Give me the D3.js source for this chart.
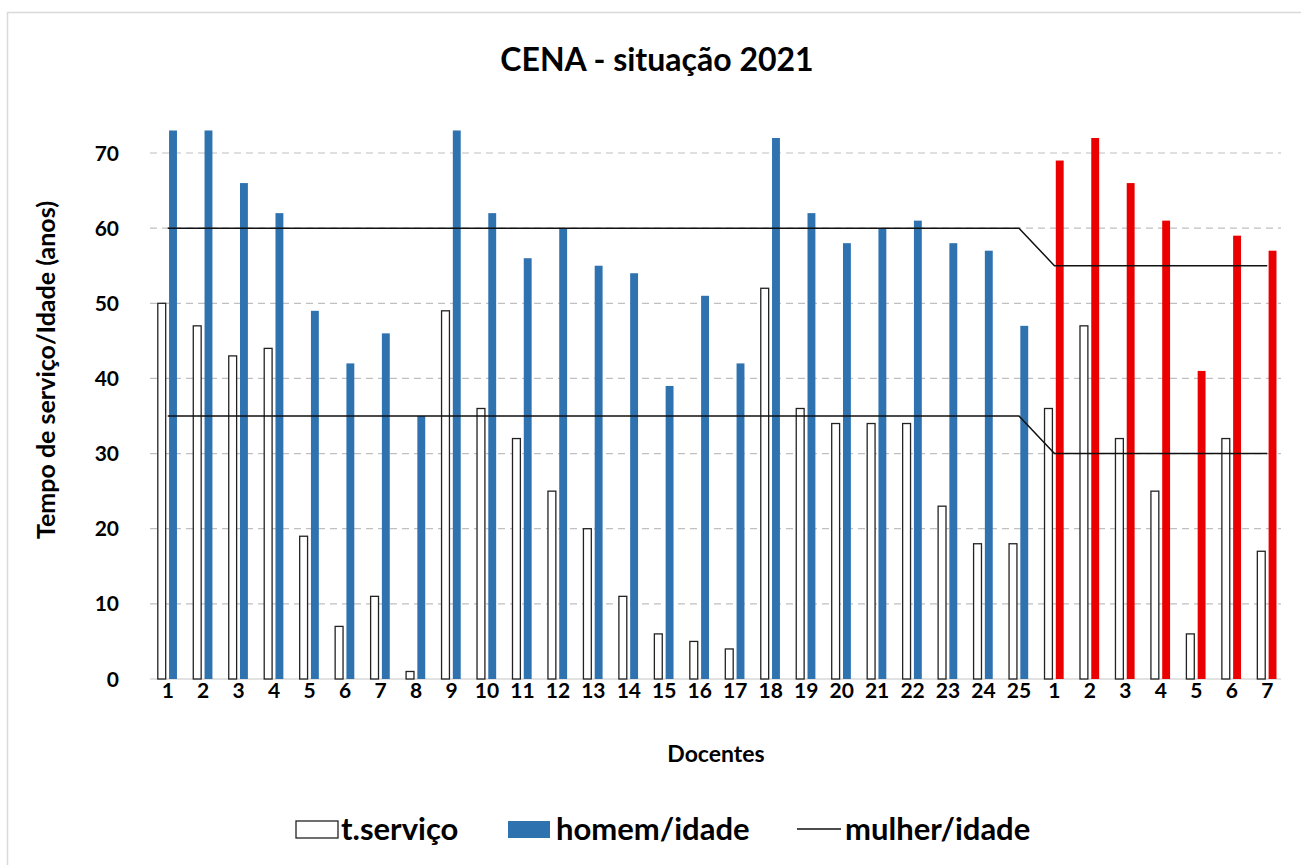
<!DOCTYPE html>
<html>
<head>
<meta charset="utf-8">
<script src="https://cdn.jsdelivr.net/npm/d3@7"></script>
<style>
  body { margin: 0; background: #fff; }
  text { font-family: Lato, "Open Sans", sans-serif; font-weight: bold; fill: #000; }
</style>
</head>
<body>
<svg id="chart" width="1301" height="865"></svg>
<script>
// docentes: 25 homens, depois 7 mulheres
var docentes = ["1","2","3","4","5","6","7","8","9","10","11","12","13","14","15","16","17","18","19","20","21","22","23","24","25",
                "1","2","3","4","5","6","7"];
var sexo = ["H","H","H","H","H","H","H","H","H","H","H","H","H","H","H","H","H","H","H","H","H","H","H","H","H",
            "M","M","M","M","M","M","M"];
var tServico = [50,47,43,44,19,7,11,1,49,36,32,25,20,11,6,5,4,52,36,34,34,34,23,18,18,
                36,47,32,25,6,32,17];
var idade = [73,73,66,62,49,42,46,35,73,62,56,60,55,54,39,51,42,72,62,58,60,61,58,57,47,
             69,72,66,61,41,59,57];
// limites de aposentadoria (idade / tempo de serviço)
var limiteIdade = [60,60,60,60,60,60,60,60,60,60,60,60,60,60,60,60,60,60,60,60,60,60,60,60,60,
                   55,55,55,55,55,55,55];
var limiteServico = [35,35,35,35,35,35,35,35,35,35,35,35,35,35,35,35,35,35,35,35,35,35,35,35,35,
                     30,30,30,30,30,30,30];
var yTicks = [0,10,20,30,40,50,60,70];

var svg = d3.select("#chart");
var left = 150, right = 1285, bottom = 679;

// moldura do gráfico
svg.append("rect")
  .attr("x", 7.5).attr("y", 12.5)
  .attr("width", 1320).attr("height", 900)
  .attr("fill", "none")
  .attr("stroke", "#d9d9d9")
  .attr("stroke-width", 1.5);

var idx = d3.range(docentes.length);
var x = d3.scaleBand().domain(idx).range([left, right]);
var inner = d3.scaleBand().domain(["serv","idade"])
  .range([x.bandwidth()*0.22, x.bandwidth()*0.76]).paddingInner(0.3);
var y = d3.scaleLinear().domain([0, 77]).range([bottom, bottom - 77*7.514]);

// grade
svg.append("g").selectAll("line")
  .data(yTicks.filter(function(d){ return d > 0; }))
  .enter().append("line")
  .attr("x1", left).attr("x2", right - 4)
  .attr("y1", function(d){ return y(d); })
  .attr("y2", function(d){ return y(d); })
  .attr("stroke", "#c0c0c0")
  .attr("stroke-width", 1.2)
  .attr("stroke-dasharray", "7,5");

// eixo x (linha base)
svg.append("line")
  .attr("x1", left).attr("x2", right - 4)
  .attr("y1", y(0)).attr("y2", y(0))
  .attr("stroke", "#d9d9d9").attr("stroke-width", 1.5);

// rótulos eixo y
svg.append("g").selectAll("text")
  .data(yTicks).enter().append("text")
  .attr("x", 119)
  .attr("y", function(d){ return y(d); })
  .attr("dy", "0.36em")
  .attr("text-anchor", "end")
  .style("font-size", "21px")
  .text(function(d){ return d; });

// rótulos eixo x
svg.append("g").selectAll("text")
  .data(idx).enter().append("text")
  .attr("x", function(i){ return x(i) + x.bandwidth()/2; })
  .attr("y", 698)
  .attr("text-anchor", "middle")
  .style("font-size", "21px")
  .text(function(i){ return docentes[i]; });

// barras t.serviço
svg.append("g").selectAll("rect")
  .data(idx).enter().append("rect")
  .attr("x", function(i){ return x(i) + inner("serv"); })
  .attr("y", function(i){ return y(tServico[i]); })
  .attr("width", inner.bandwidth())
  .attr("height", function(i){ return y(0) - y(tServico[i]); })
  .attr("fill", "#fff")
  .attr("stroke", "#222")
  .attr("stroke-width", 1.3);

// barras idade
svg.append("g").selectAll("rect")
  .data(idx).enter().append("rect")
  .attr("x", function(i){ return x(i) + inner("idade"); })
  .attr("y", function(i){ return y(idade[i]); })
  .attr("width", inner.bandwidth())
  .attr("height", function(i){ return y(0) - y(idade[i]); })
  .attr("fill", function(i){ return sexo[i] == "H" ? "#2e72b0" : "#ea0000"; });

// linhas de limite
var line = d3.line()
  .x(function(d, i){ return x(i) + x.bandwidth()/2; })
  .y(function(d){ return y(d); });
[limiteIdade, limiteServico].forEach(function(serie){
  svg.append("path")
    .datum(serie)
    .attr("d", line)
    .attr("fill", "none")
    .attr("stroke", "#111")
    .attr("stroke-width", 1.5);
});

// títulos
svg.append("text")
  .attr("x", 657).attr("y", 71)
  .attr("text-anchor", "middle")
  .style("font-size", "32px")
  .text("CENA - situação 2021");

svg.append("text")
  .attr("transform", "translate(55,370) rotate(-90)")
  .attr("text-anchor", "middle")
  .style("font-size", "25px")
  .text("Tempo de serviço/Idade (anos)");

svg.append("text")
  .attr("x", 716).attr("y", 762)
  .attr("text-anchor", "middle")
  .style("font-size", "23px")
  .text("Docentes");

// legenda
var leg = svg.append("g").attr("transform", "translate(0,829)");
leg.append("rect").attr("x", 296).attr("y", -8).attr("width", 42).attr("height", 17)
  .attr("fill", "#fff").attr("stroke", "#222").attr("stroke-width", 1.3);
leg.append("text").attr("x", 341).attr("y", 0).attr("dy", "0.36em")
  .style("font-size", "31px").text("t.serviço");
leg.append("rect").attr("x", 508).attr("y", -8).attr("width", 42).attr("height", 17)
  .attr("fill", "#2e72b0");
leg.append("text").attr("x", 556).attr("y", 0).attr("dy", "0.36em")
  .style("font-size", "31px").text("homem/idade");
leg.append("line").attr("x1", 797).attr("x2", 841).attr("y1", 0).attr("y2", 0)
  .attr("stroke", "#111").attr("stroke-width", 1.5);
leg.append("text").attr("x", 845).attr("y", 0).attr("dy", "0.36em")
  .style("font-size", "31px").text("mulher/idade");
</script>
</body>
</html>
